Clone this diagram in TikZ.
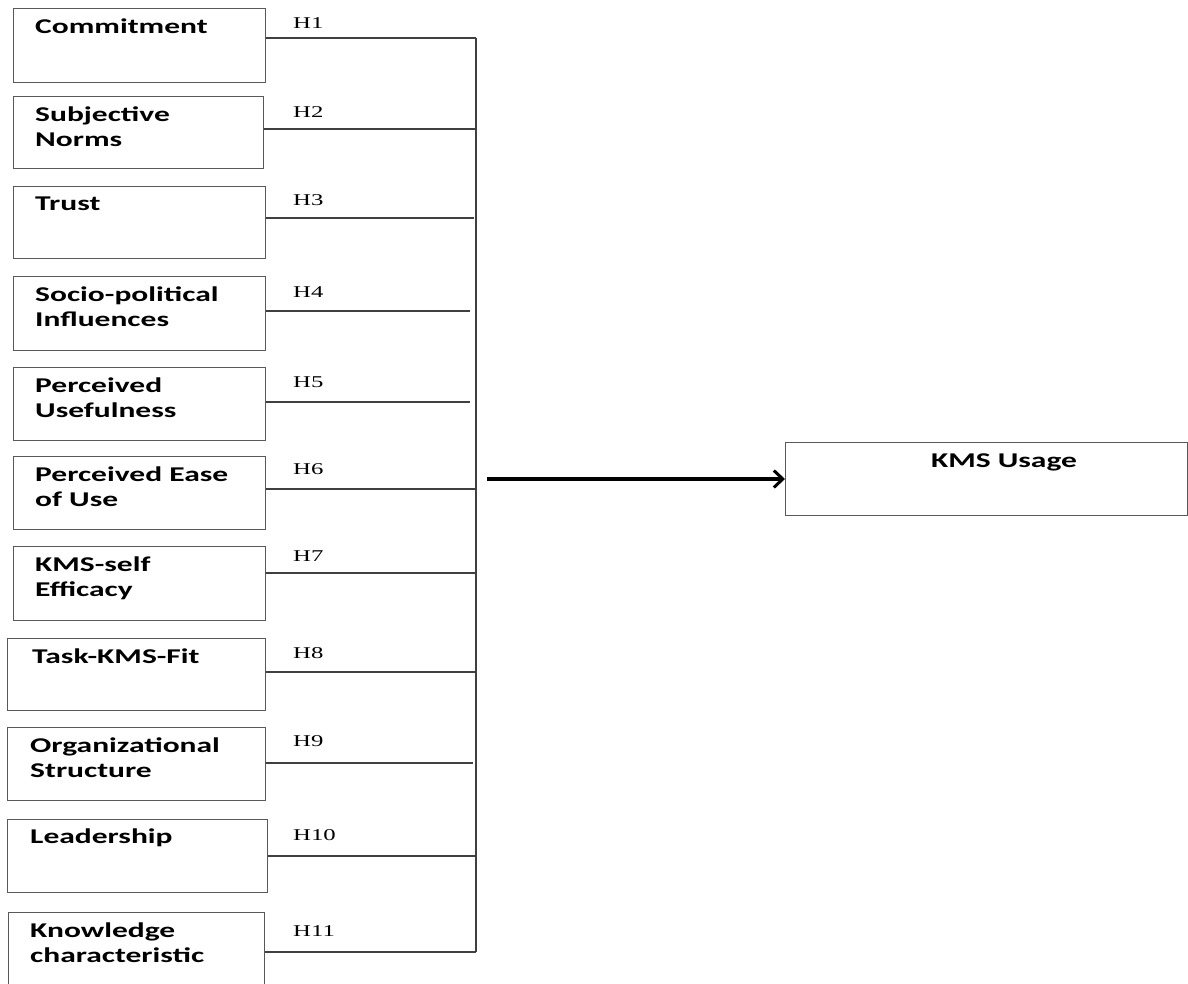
\documentclass[tikz,border=0pt]{standalone}
\usepackage{fontspec}
\setmainfont{Carlito}
\newfontfamily\hfont{Liberation Serif}
\usetikzlibrary{arrows.meta}
\newcommand{\wtxt}[1]{\scalebox{1.5}[1]{#1}}
\begin{document}
\begin{tikzpicture}[x=1pt,y=-1pt,
  box/.style={draw=black!65, line width=1.3pt, inner sep=0pt, anchor=north west, fill=none},
  lbl/.style={anchor=base west, inner sep=0pt, align=left, font=\fontsize{21}{25.5}\selectfont\bfseries},
  hlbl/.style={anchor=base west, inner sep=0pt, font=\hfont\fontsize{16.5}{18}\selectfont},
  link/.style={draw=black!75, line width=1.1pt},
  mainarrow/.style={draw=black, line width=3.5pt, -{Straight Barb[length=9pt,width=17pt,line width=3pt]}}]
\useasboundingbox (0,0) rectangle (1188,983);
% boxes
\node[box, minimum width=252pt, minimum height=74pt] (b1) at (13,8) {};
\node[box, minimum width=250pt, minimum height=72pt] (b2) at (13,96) {};
\node[box, minimum width=252pt, minimum height=72pt] (b3) at (13,186) {};
\node[box, minimum width=252pt, minimum height=74pt] (b4) at (13,276) {};
\node[box, minimum width=252pt, minimum height=73pt] (b5) at (13,367) {};
\node[box, minimum width=252pt, minimum height=73pt] (b6) at (13,456) {};
\node[box, minimum width=252pt, minimum height=74pt] (b7) at (13,546) {};
\node[box, minimum width=258pt, minimum height=72pt] (b8) at (7,638) {};
\node[box, minimum width=258pt, minimum height=73pt] (b9) at (7,727) {};
\node[box, minimum width=260pt, minimum height=73pt] (b10) at (7,819) {};
\node[box, minimum width=256pt, minimum height=80pt] (b11) at (8,912) {};
\node[box, minimum width=402pt, minimum height=73pt] (kms) at (785,442) {};
% box texts (two-line texts are anchored at the baseline of their last line)
\node[lbl] (t1) at (35,33) {\wtxt{Commitment}};
\node[lbl] (t2) at (35,146.5) {\wtxt{Subjective}\\\wtxt{Norms}};
\node[lbl] (t3) at (35,210) {\wtxt{Trust}};
\node[lbl] (t4) at (35,326.5) {\wtxt{Socio-political}\\\wtxt{Influences}};
\node[lbl] (t5) at (35,417.5) {\wtxt{Perceived}\\\wtxt{Usefulness}};
\node[lbl] (t6) at (35,506.5) {\wtxt{Perceived Ease}\\\wtxt{of Use}};
\node[lbl] (t7) at (35,596.5) {\wtxt{KMS-self}\\\wtxt{Efficacy}};
\node[lbl] (t8) at (32,663) {\wtxt{Task-KMS-Fit}};
\node[lbl] (t9) at (30,777.5) {\wtxt{Organizational}\\\wtxt{Structure}};
\node[lbl] (t10) at (30,843) {\wtxt{Leadership}};
\node[lbl] (t11) at (30,962.5) {\wtxt{Knowledge}\\\wtxt{characteristic}};
\node[lbl, anchor=base] (tk) at (1004,467) {\wtxt{KMS Usage}};
% junction coordinates on the vertical bus
\coordinate (j1) at (476,38);
\coordinate (j2) at (476,129);
\coordinate (j3) at (474,218);
\coordinate (j4) at (470,311);
\coordinate (j5) at (470,402);
\coordinate (j6) at (476,489);
\coordinate (j7) at (476,573);
\coordinate (j8) at (476,672);
\coordinate (j9) at (473,763);
\coordinate (j10) at (476,856);
\coordinate (j11) at (476,952);
\coordinate (top) at (476,38);
\coordinate (bot) at (476,952);
\draw[link] (top) -- (bot);
\foreach \i in {1,...,11} {
  \draw[link] (b\i.east |- j\i) -- (j\i);
}
% hypothesis labels
\node[hlbl] (h1) at (293,28) {\wtxt{H1}};
\node[hlbl] (h2) at (293,117) {\wtxt{H2}};
\node[hlbl] (h3) at (293,205) {\wtxt{H3}};
\node[hlbl] (h4) at (293,297) {\wtxt{H4}};
\node[hlbl] (h5) at (293,387) {\wtxt{H5}};
\node[hlbl] (h6) at (293,474) {\wtxt{H6}};
\node[hlbl] (h7) at (293,561) {\wtxt{H7}};
\node[hlbl] (h8) at (293,658) {\wtxt{H8}};
\node[hlbl] (h9) at (293,746) {\wtxt{H9}};
\node[hlbl] (h10) at (293,840) {\wtxt{H10}};
\node[hlbl] (h11) at (293,936) {\wtxt{H11}};
% main arrow
\coordinate (astart) at (487,479);
\draw[mainarrow] (astart) -- (kms.west |- astart);
\end{tikzpicture}
\end{document}
